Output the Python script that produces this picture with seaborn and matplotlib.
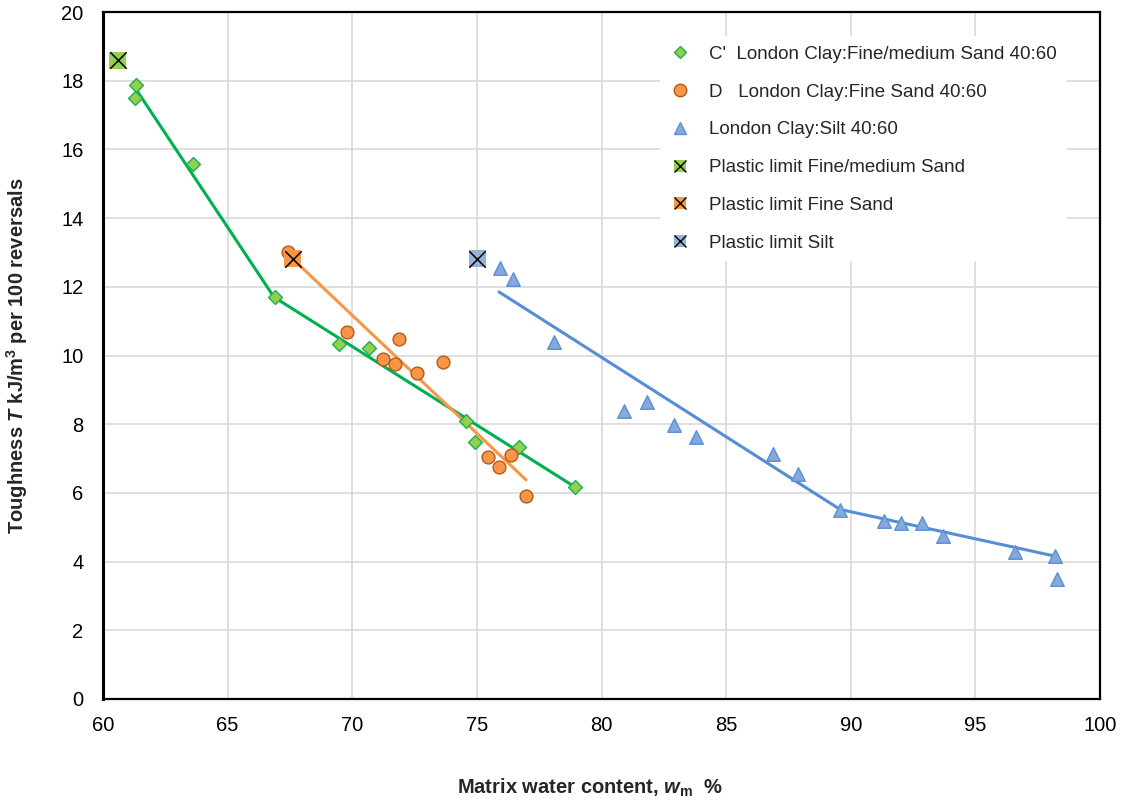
import matplotlib
matplotlib.use("Agg")
import matplotlib.pyplot as plt
import seaborn as sns
import pandas as pd
from matplotlib.lines import Line2D
from matplotlib.legend_handler import HandlerTuple

# ---- data ----
green_x = [61.32, 61.28, 63.61, 66.90, 69.47, 70.67, 74.56, 74.92, 76.69, 78.94]
green_y = [17.87, 17.50, 15.57, 11.70, 10.33, 10.22, 8.09, 7.48, 7.34, 6.17]

orange_x = [67.42, 69.79, 71.23, 71.71, 71.89, 72.60, 73.64, 75.45, 75.89, 76.37, 76.97]
orange_y = [13.01, 10.68, 9.90, 9.75, 10.48, 9.49, 9.81, 7.05, 6.75, 7.10, 5.91]

blue_x = [75.93, 76.45, 78.09, 80.90, 81.83, 82.91, 83.79, 86.88, 87.88, 89.57,
          91.33, 92.01, 92.86, 93.70, 96.59, 98.19, 98.27]
blue_y = [12.55, 12.23, 10.39, 8.38, 8.65, 7.98, 7.63, 7.13, 6.55, 5.50,
          5.18, 5.12, 5.12, 4.75, 4.28, 4.16, 3.49]

green_fit_x = [61.28, 66.86, 78.94]
green_fit_y = [17.80, 11.70, 6.17]
orange_fit_x = [67.34, 76.97]
orange_fit_y = [13.00, 6.38]
blue_fit_x = [75.89, 89.57, 98.19]
blue_fit_y = [11.85, 5.52, 4.16]

pl_labels = ["Plastic limit Fine/medium Sand", "Plastic limit Fine Sand", "Plastic limit Silt"]
pl_x = [60.60, 67.62, 75.01]
pl_y = [18.60, 12.81, 12.81]

series_labels = ["C'  London Clay:Fine/medium Sand 40:60",
                 "D   London Clay:Fine Sand 40:60",
                 "London Clay:Silt 40:60"]

x_ticks = [60, 65, 70, 75, 80, 85, 90, 95, 100]
y_ticks = [0, 2, 4, 6, 8, 10, 12, 14, 16, 18, 20]

# ---- style ----
sns.set_style("white")
plt.rcParams["font.family"] = ["Liberation Sans", "DejaVu Sans"]
plt.rcParams["mathtext.fontset"] = "custom"
plt.rcParams["mathtext.it"] = "Liberation Sans:italic:bold"
plt.rcParams["mathtext.rm"] = "Liberation Sans:bold"
plt.rcParams["mathtext.bf"] = "Liberation Sans:bold"

G_FILL, G_EDGE, G_LINE = "#92D050", "#1DB04E", "#00B050"
O_FILL, O_EDGE, O_LINE = "#F79646", "#B35A1A", "#F79646"
B_FILL, B_EDGE, B_LINE = "#86A8DA", "#5B8FD8", "#558ED5"
SQ = ["#92D050", "#F79646", "#95B3D7"]

fig = plt.figure(figsize=(11.22, 8.01), dpi=100)
ax = fig.add_axes([103 / 1122, 1 - 699 / 801, 997 / 1122, 687 / 801])

# trend lines
for fx, fy, c in [(green_fit_x, green_fit_y, G_LINE),
                  (orange_fit_x, orange_fit_y, O_LINE),
                  (blue_fit_x, blue_fit_y, B_LINE)]:
    sns.lineplot(x=fx, y=fy, ax=ax, color=c, lw=2.2, sort=False,
                 estimator=None, legend=False, zorder=2)

# data points
sns.scatterplot(x=green_x, y=green_y, ax=ax, marker="D", s=50, color=G_FILL,
                edgecolor=G_EDGE, linewidth=1.0, zorder=3, legend=False)
sns.scatterplot(x=orange_x, y=orange_y, ax=ax, marker="o", s=85, color=O_FILL,
                edgecolor=O_EDGE, linewidth=1.0, zorder=3, legend=False)
sns.scatterplot(x=blue_x, y=blue_y, ax=ax, marker="^", s=95, color=B_FILL,
                edgecolor=B_EDGE, linewidth=1.0, zorder=3, legend=False)

# plastic limit markers
pl_df = pd.DataFrame({"x": pl_x, "y": pl_y, "lab": pl_labels})
sns.scatterplot(data=pl_df, x="x", y="y", hue="lab", palette=SQ, marker="s",
                s=150, linewidth=0, ax=ax, zorder=4, legend=False)
sns.scatterplot(data=pl_df, x="x", y="y", marker="x", s=140, color="black",
                linewidth=1.1, ax=ax, zorder=5, legend=False)

ax.set_xlim(60, 100)
ax.set_ylim(0, 20)
ax.set_xticks(x_ticks)
ax.set_yticks(y_ticks)
ax.grid(True, color="#D9D9D9", lw=1.2, zorder=0)
ax.set_axisbelow(True)
for sp in ax.spines.values():
    sp.set_color("black")
    sp.set_linewidth(1.6)
    sp.set_visible(True)
ax.spines["left"].set_linewidth(2.2)
ax.tick_params(axis="both", direction="out", length=4, width=1, colors="black",
               labelsize=14.5, labelcolor="black")
ax.tick_params(axis="y", pad=10)
ax.tick_params(axis="x", pad=8)

ax.set_xlabel("Matrix water content, $w_{\\mathrm{m}}$  %", fontsize=14.5,
              fontweight="bold")
ax.set_ylabel("Toughness $T$ kJ/m$^{3}$ per 100 reversals", fontsize=14.5,
              fontweight="bold")
ax.xaxis.set_label_coords(0.489, -0.1135)
ax.yaxis.set_label_coords(-0.073, 0.5)

# legend
h_g = Line2D([], [], ls="none", marker="D", ms=6, mfc=G_FILL, mec=G_EDGE, mew=1)
h_o = Line2D([], [], ls="none", marker="o", ms=9, mfc=O_FILL, mec=O_EDGE, mew=1)
h_b = Line2D([], [], ls="none", marker="^", ms=9, mfc=B_FILL, mec=B_EDGE, mew=1)
pl_handles = []
for c in SQ:
    sq = Line2D([], [], ls="none", marker="s", ms=9, mfc=c, mec=c, mew=0)
    xx = Line2D([], [], ls="none", marker="x", ms=8, mec="black", mew=1)
    pl_handles.append((sq, xx))
handles = [h_g, h_o, h_b] + pl_handles
labels = series_labels + pl_labels
leg = ax.legend(handles, labels, loc="upper left", bbox_to_anchor=(0.549, 0.978),
                frameon=True, fancybox=False, facecolor="white", edgecolor="none",
                framealpha=1, fontsize=13.5, labelspacing=1.1, handletextpad=0.95,
                handlelength=1.2, borderpad=0.5,
                handler_map={tuple: HandlerTuple(ndivide=1, pad=0)})

fig.savefig("out.png", dpi=100)
